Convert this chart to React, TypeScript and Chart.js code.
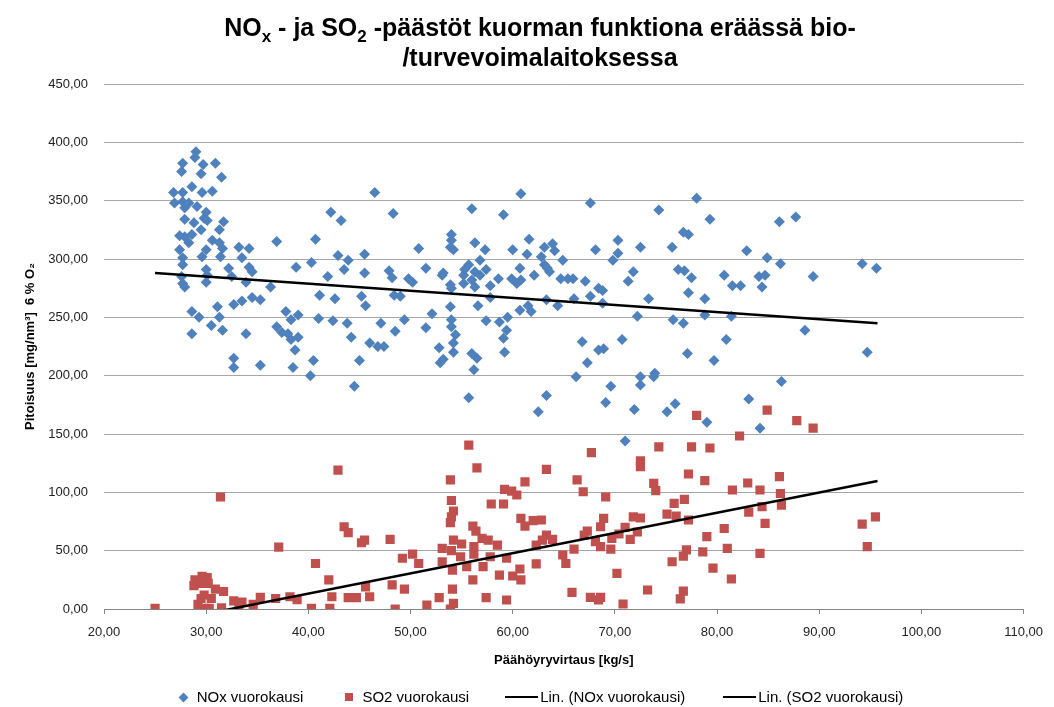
import React, { useEffect, useRef } from 'react';
import { Chart, registerables } from 'chart.js';

Chart.register(...registerables);

// Päähöyryvirtaus [kg/s], NOx [mg/nm3]
const noxPoints: [number, number][] = [
  [29.0,392],[28.9,387],[27.7,382],[29.7,381],[30.9,382],[27.6,375],[29.5,373],[31.5,370],[28.6,362],[29.6,357],
  [30.6,358],[26.8,357],[27.7,357],[26.9,348],[27.7,349],[28.3,348],[29.1,345],[27.9,344],[30.0,340],[31.7,332],
  [27.9,334],[28.8,331],[29.8,335],[30.1,333],[31.3,325],[27.4,320],[27.9,319],[28.6,321],[29.5,325],[28.3,314],
  [30.6,316],[31.3,314],[36.9,315],[40.7,317],[27.4,308],[30.0,308],[31.6,309],[33.2,310],[34.2,309],[27.7,301],
  [29.6,302],[31.4,302],[33.5,301],[27.7,295],[40.3,297],[38.8,293],[30.0,291],[32.2,292],[34.2,293],[34.5,289],
  [27.6,285],[30.1,286],[32.5,285],[41.9,285],[27.7,279],[30.0,280],[33.9,280],[36.3,276],[27.9,276],[41.1,269],
  [32.7,261],[33.5,264],[34.5,267],[35.3,265],[31.1,259],[28.6,255],[29.3,250],[31.3,250],[37.8,255],[39.0,252],
  [38.3,248],[41.0,249],[30.5,243],[36.9,242],[37.4,237],[38.0,236],[28.6,236],[31.6,239],[33.9,236],[38.3,231],
  [39.0,233],[38.7,222],[32.7,215],[32.7,207],[35.3,209],[38.5,207],[40.5,213],[40.2,200],
  [46.5,357],[42.2,340],[43.2,333],[48.3,339],[56.0,343],[60.8,356],[59.1,338],[42.9,303],[43.9,299],[45.5,304],
  [50.8,309],[54.0,321],[54.0,316],[53.9,310],[54.2,308],[56.3,314],[57.3,308],[60.0,308],[61.6,317],[61.4,304],
  [43.5,291],[45.5,288],[47.9,290],[48.2,284],[49.8,283],[50.2,280],[51.5,292],[53.1,286],[53.2,288],[55.2,286],
  [55.3,291],[55.7,295],[56.8,299],[56.3,289],[56.8,286],[57.4,291],[58.6,283],[59.9,283],[60.4,279],[60.7,292],
  [60.8,282],[62.1,286],[42.6,266],[45.2,268],[45.6,260],[48.4,269],[49.0,268],[53.9,278],[54.0,275],[55.2,279],
  [56.0,282],[56.3,276],[57.8,277],[57.8,267],[53.9,259],[56.6,260],[61.5,260],[61.8,255],[60.7,256],[59.5,250],
  [42.4,247],[43.8,245],[47.1,245],[49.4,248],[52.1,253],[57.4,247],[58.7,246],[54.0,248],[54.0,242],[51.5,241],
  [48.5,238],[44.2,233],[54.4,235],[59.4,239],[59.1,232],[46.0,228],[46.8,225],[47.4,225],[54.2,228],[52.8,224],
  [59.2,220],[54.2,220],[56.0,219],[56.5,215],[53.2,214],[52.9,211],[45.0,213],[56.2,205],[44.5,191],[55.7,181],
  [67.6,348],[78.0,352],[74.3,342],[79.3,334],[63.9,313],[63.1,310],[64.1,307],[68.1,308],[70.3,316],[70.3,305],
  [69.8,299],[72.5,310],[75.6,310],[76.7,323],[77.2,321],[62.8,302],[63.1,295],[63.4,292],[63.6,289],[64.9,299],
  [64.7,283],[65.4,283],[65.9,283],[67.1,281],[71.8,289],[71.3,281],[76.2,291],[76.8,290],[77.5,284],[80.7,286],
  [81.5,277],[82.3,277],[68.4,275],[68.8,273],[67.6,268],[63.3,265],[66.0,266],[68.8,262],[73.3,266],[77.2,271],
  [78.8,266],[64.4,260],[72.2,251],[75.7,248],[76.7,245],[78.8,252],[81.4,251],[66.8,229],[70.7,231],[80.9,231],
  [68.4,222],[68.9,223],[67.3,211],[77.1,219],[79.7,213],[66.2,199],[63.3,183],[69.6,191],[72.5,199],[72.5,192],
  [73.8,199],[73.9,202],[62.5,169],[69.1,177],[71.9,171],[75.1,169],[75.9,176],[79.0,160],[71.0,144],
  [86.1,332],[87.7,336],[82.9,307],[84.9,301],[86.2,296],[94.2,296],[95.6,292],[84.1,285],[84.7,286],[84.4,276],
  [89.4,285],[88.6,239],[94.7,220],[86.3,195],[83.1,180],[84.2,155],
];

// Päähöyryvirtaus [kg/s], SO2 [mg/nm3]
const so2Points: [number, number][] = [
  [31.4,96],[37.1,53],[40.7,39],[25.0,0.6],[29.6,28],[30.1,27],[28.8,20],[29.6,22],[29.8,12],[29.5,9],
  [30.9,17],[31.7,15],[29.8,0.6],[30.3,0.6],[31.5,1],[32.7,7],[33.5,6],[33.2,0],[34.6,4],[35.3,10],
  [36.8,9],[38.2,10.5],[38.9,8],[40.3,0.6],[42.1,0.6],[42.0,25],[42.3,10.5],[28.9,25],[30.2,22],[30.5,9],[29.2,4],
  [42.9,119],[55.7,140.5],[56.5,121],[53.9,110.6],[61.2,109],[54.0,93],[54.2,84],[54.0,79],[53.9,74],[57.9,90],
  [59.1,90],[59.2,102.6],[59.9,101],[60.4,97.7],[60.8,77.7],[61.2,71],[43.5,70.5],[43.9,65.4],[45.2,56.8],[45.5,59],
  [48.0,59.7],[56.1,71],[56.4,66.8],[54.2,59],[55.0,55.7],[56.2,53.4],[57.0,60.6],[57.6,59],[58.5,54.8],[53.1,52],
  [54.0,50],[54.9,44.8],[56.2,47],[57.8,44.8],[59.4,43.5],[49.2,43.5],[50.2,47],[50.8,39],[53.1,40.5],[54.1,33.4],
  [55.5,36.3],[57.1,36.3],[58.7,29],[60.0,28.3],[60.8,25],[60.7,34.3],[56.1,25],[45.6,19],[48.2,20.6],[49.4,17],
  [54.1,17],[43.9,9.7],[44.7,9.7],[46.0,10.5],[52.8,9.7],[57.4,9.7],[59.4,7.7],[48.5,0],[51.6,3.4],[54.2,4.9],[53.9,0],
  [78.0,166],[67.7,134],[74.3,139],[77.5,139],[79.3,138],[72.5,127],[72.5,122],[63.3,119.7],[66.3,110.6],[77.2,115.7],
  [78.8,110],[66.9,100.5],[69.1,96],[73.8,107.7],[74.0,101.4],[75.8,90.6],[76.8,94],[62.0,75.7],[62.8,76.3],[68.9,77.7],
  [68.6,70.5],[71.8,79],[72.5,78],[75.1,81.4],[76.0,79.7],[77.2,76.3],[67.3,66.8],[67.0,63.4],[71.0,70],[72.2,66],
  [71.5,59.7],[69.7,60.6],[70.4,64.3],[63.3,63.4],[63.9,59.7],[62.9,59],[62.3,54.8],[68.1,57.7],[68.6,53.4],[69.6,51.4],
  [66.0,51.4],[64.9,46.3],[65.2,39],[79.0,62],[78.6,49],[77.0,50.6],[76.7,45.4],[75.6,40.5],[79.6,35],[62.3,38.6],
  [70.2,30.6],[65.8,14.3],[67.6,10],[68.6,10],[68.4,7.7],[73.2,16.3],[76.7,15.4],[76.4,8.6],[70.8,4.3],
  [84.9,170.5],[87.8,161.4],[89.4,155],[82.2,148.3],[81.5,102],[83.0,108],[84.2,102],[86.1,113.4],[86.2,99],[86.3,89],
  [84.4,87.7],[83.1,83],[84.7,73.4],[80.7,69],[81.0,52],[84.2,47.7],[81.4,25.7],[94.2,72.8],[95.5,79],[94.7,53.4],
];

// Linear trendlines (start and end of the fitted lines)
const trendX = [25.0, 95.7];
const noxTrendY = [288, 245];
const so2TrendY = [-12.8, 109.7];

const seriesLabels = ['NOx vuorokausi', 'SO2 vuorokausi', 'Lin. (NOx vuorokausi)', 'Lin. (SO2 vuorokausi)'];
const seriesColors = ['#4F81BD', '#C0504D', '#000000', '#000000'];
const xRange = [20, 110];
const yRange = [0, 450];
const xStep = 10;
const yStep = 50;
const xTitle = 'Päähöyryvirtaus [kg/s]';
const yTitle = 'Pitoisuus [mg/nm³]  6 % O₂';

const fmt = (v: number) => v.toFixed(2).replace('.', ',');
const FONT = '"Liberation Sans", Arial, sans-serif';

export default function App() {
  const ref = useRef<HTMLCanvasElement>(null);
  useEffect(() => {
    document.body.style.margin = '0';
    const chart = new Chart(ref.current!, {
      type: 'scatter',
      data: {
        datasets: [
          {
            label: seriesLabels[0],
            data: noxPoints.map(([x, y]) => ({ x, y })),
            pointStyle: 'rectRot', pointRadius: 5.5, backgroundColor: seriesColors[0],
            borderColor: seriesColors[0], borderWidth: 0, order: 2,
          },
          {
            label: seriesLabels[1],
            data: so2Points.map(([x, y]) => ({ x, y })),
            pointStyle: 'rect', pointRadius: 6.5, backgroundColor: seriesColors[1],
            borderColor: seriesColors[1], borderWidth: 0, order: 1,
          },
          {
            type: 'line', label: seriesLabels[2],
            data: trendX.map((x, i) => ({ x, y: noxTrendY[i] })),
            borderColor: seriesColors[2], borderWidth: 2.5, pointRadius: 0, fill: false, order: 0, clip: 0,
          } as any,
          {
            type: 'line', label: seriesLabels[3],
            data: trendX.map((x, i) => ({ x, y: so2TrendY[i] })),
            borderColor: seriesColors[3], borderWidth: 2.5, pointRadius: 0, fill: false, order: 0, clip: 0,
          } as any,
        ],
      },
      options: {
        animation: false,
        responsive: false,
        layout: { padding: { top: 84, left: 0, right: 21, bottom: 38 } },
        plugins: { legend: { display: false }, title: { display: false }, tooltip: { enabled: false } },
        scales: {
          x: {
            type: 'linear', min: xRange[0], max: xRange[1],
            ticks: { stepSize: xStep, callback: (v: any) => fmt(Number(v)), color: '#222', font: { family: FONT, size: 13 }, padding: 11 },
            grid: { drawOnChartArea: false, drawTicks: true, tickLength: 5, color: '#868686' },
            border: { display: true, color: '#868686', width: 1 },
            title: { display: true, text: xTitle, color: '#000', font: { family: FONT, size: 13, weight: 'bold' }, padding: { top: 0, bottom: 1 } },
            afterFit: (s: any) => { s.height = 60; },
          },
          y: {
            type: 'linear', min: yRange[0], max: yRange[1],
            ticks: { stepSize: yStep, callback: (v: any) => fmt(Number(v)), color: '#222', font: { family: FONT, size: 13 }, padding: 16 },
            grid: { color: '#a6a6a6', drawTicks: false },
            border: { display: false },
            title: { display: true, text: yTitle, color: '#000', font: { family: FONT, size: 13, weight: 'bold' }, padding: { top: 23, bottom: 0 } },
            afterFit: (s: any) => { s.width = 104; },
          },
        },
      } as any,
    });
    return () => chart.destroy();
  }, []);

  const sub: React.CSSProperties = { fontSize: 17, position: 'relative', top: 6, verticalAlign: 'baseline' };
  const item: React.CSSProperties = { display: 'flex', alignItems: 'center', whiteSpace: 'nowrap' };
  return (
    <div style={{ position: 'relative', width: 1054, height: 707, background: '#fff', fontFamily: FONT, color: '#000' }}>
      <canvas ref={ref} width={1054} height={707} style={{ position: 'absolute', left: 0, top: 0, display: 'block' }} />
      <div style={{ position: 'absolute', top: 14, left: 0, width: 1080, textAlign: 'center', fontWeight: 'bold', fontSize: 25, lineHeight: '26px' }}>
        NO<span style={sub}>x</span> - ja SO<span style={sub}>2</span> -päästöt kuorman funktiona eräässä bio-<br />/turvevoimalaitoksessa
      </div>
      <div style={{ position: 'absolute', top: 688, left: 0, width: 1083, display: 'flex', justifyContent: 'center', fontSize: 15, lineHeight: '18px' }}>
        <div style={{ ...item, marginRight: 42 }}>
          <span style={{ width: 7, height: 7, background: seriesColors[0], transform: 'rotate(45deg)', marginRight: 10 }} />
          {seriesLabels[0]}
        </div>
        <div style={{ ...item, marginRight: 36 }}>
          <span style={{ width: 8, height: 8, background: seriesColors[1], marginRight: 9 }} />
          {seriesLabels[1]}
        </div>
        <div style={{ ...item, marginRight: 38 }}>
          <span style={{ width: 33, height: 2.5, background: seriesColors[2], marginRight: 2 }} />
          {seriesLabels[2]}
        </div>
        <div style={item}>
          <span style={{ width: 33, height: 2.5, background: seriesColors[3], marginRight: 2 }} />
          {seriesLabels[3]}
        </div>
      </div>
    </div>
  );
}
